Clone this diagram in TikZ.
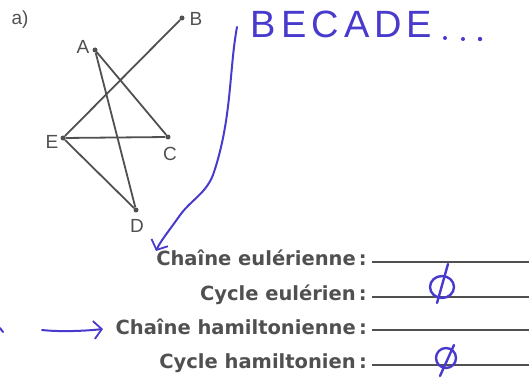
\documentclass[tikz,border=0pt]{standalone}
\usepackage{fontspec}
\setmainfont{Liberation Sans}
\newfontfamily\formfont{DejaVu Sans}
\usetikzlibrary{arrows.meta}
\definecolor{ink}{RGB}{72,58,205}
\definecolor{pgray}{RGB}{80,80,80}
\begin{document}
\begin{tikzpicture}[x=1pt,y=-1pt,
  vdot/.style={circle,fill=pgray,inner sep=0pt,minimum size=5pt},
  vlab/.style={text=pgray,font=\fontsize{19}{19}\selectfont,inner sep=0pt},
  edge/.style={draw=pgray,line width=1.8pt},
  formtxt/.style={text=pgray,font=\formfont\bfseries\fontsize{19.5}{20}\selectfont,anchor=base east,inner sep=0pt},
  blank/.style={draw=pgray,line width=1.1pt},
  hand/.style={draw=ink,line width=2pt,line cap=round,line join=round},
  handtip/.style={-{Straight Barb[length=8pt,width=18pt,line width=1.8pt]}}
]
\useasboundingbox (0,0) rectangle (529,377);
% graph
\node[vlab] (lab) at (20,20) {a)};
\node[vdot] (B) at (182,18) {};
\node[vdot] (A) at (95,50) {};
\node[vdot] (E) at (63,138) {};
\node[vdot] (C) at (168,137) {};
\node[vdot] (D) at (136,210) {};
\node[vlab] (lB) at (196,19) {B};
\node[vlab] (lA) at (83,47) {A};
\node[vlab] (lE) at (52,142) {E};
\node[vlab] (lC) at (170,154) {C};
\node[vlab] (lD) at (137,226) {D};
\draw[edge] (E) -- (B);
\draw[edge] (A) -- (C);
\draw[edge] (A) -- (D);
\draw[edge] (E) -- (C);
\draw[edge] (E) -- (D);
% form
\node[formtxt] (t1) at (367,265) {Chaîne eulérienne\,:};
\node[formtxt] (t2) at (367,300) {Cycle eulérien\,:};
\node[formtxt] (t3) at (367,334) {Chaîne hamiltonienne\,:};
\node[formtxt] (t4) at (367,368) {Cycle hamiltonien\,:};
\draw[blank] (372,262) -- (529,262);
\draw[blank] (372,297) -- (529,297);
\draw[blank] (372,330) -- (529,330);
\draw[blank] (372,365) -- (529,365);
% handwriting
\node[text=ink,font=\fontsize{38}{38}\selectfont,inner sep=0pt,anchor=base west] (hw) at (250,38) {B\kern6pt E\kern5pt C\kern5pt A\kern5pt D\kern4pt E};
\fill[ink] (445,38) circle (2) (463,39) circle (2) (480,39) circle (2.2);
\coordinate (c0) at (237,27);
\coordinate (ctip) at (156,251);
\draw[hand,handtip] (c0) .. controls (229,70) and (232,120) .. (213,175)
   .. controls (205,195) and (190,200) .. (178,218)
   .. controls (168,232) and (160,242) .. (ctip);
\coordinate (l0) at (42,330);
\coordinate (l1) at (103,329);
\draw[hand,handtip] (l0) .. controls (60,332) and (85,331) .. (l1);
\draw[hand] (0,328) -- (3,332);
% empty set marks
\draw[hand,line width=2.4pt] (442,287) ellipse [x radius=12, y radius=11];
\draw[hand,line width=2.4pt] (448,264) -- (437,303);
\draw[hand,line width=2.4pt] (446,358) ellipse [x radius=10, y radius=10];
\draw[hand,line width=2.4pt] (454,345) -- (440,376);
\end{tikzpicture}
\end{document}
